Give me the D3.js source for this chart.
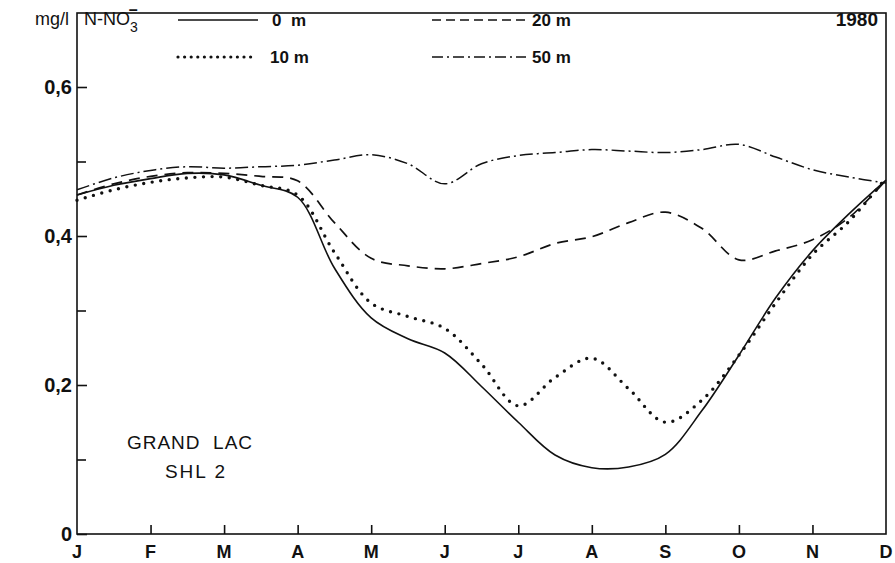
<!DOCTYPE html>
<html><head><meta charset="utf-8">
<script src="https://cdn.jsdelivr.net/npm/d3@7"></script>
<style>
body{margin:0;background:#fff;}
text{font-family:"Liberation Sans",Arial,sans-serif;fill:#111;}
</style></head>
<body><svg id="c" width="895" height="563"></svg>
<script>
const months = ["J","F","M","A","M","J","J","A","S","O","N","D"];
const xs = [0,0.5,1,1.5,2,2.5,3,3.5,4,4.5,5,5.5,6,6.5,7,7.5,8,8.5,9,9.5,10,10.5,11];
const s0m  = [0.455,0.468,0.477,0.484,0.482,0.468,0.452,0.357,0.290,0.262,0.243,0.198,0.150,0.106,0.089,0.090,0.107,0.166,0.240,0.317,0.380,0.430,0.475];
const s10m = [0.448,0.462,0.472,0.478,0.479,0.468,0.455,0.378,0.310,0.292,0.276,0.228,0.172,0.210,0.236,0.195,0.150,0.180,0.240,0.310,0.375,0.420,0.478];
const s20m = [0.455,0.470,0.480,0.485,0.484,0.480,0.474,0.418,0.370,0.360,0.356,0.363,0.372,0.390,0.399,0.418,0.432,0.410,0.368,0.380,0.395,0.425,0.475];
const s50m = [0.462,0.478,0.488,0.493,0.491,0.493,0.495,0.502,0.509,0.497,0.470,0.497,0.508,0.512,0.516,0.514,0.512,0.516,0.523,0.506,0.489,0.479,0.471];
const yTicks = [0,0.2,0.4,0.6];
const yTickLabels = ["0","0,2","0,4","0,6"];
const yMinor = [0.1,0.3,0.5];

const svg = d3.select("#c");
const pL=77, pR=886, pT=13, pB=534;
const x = d3.scaleLinear().domain([0,11]).range([pL,pR]);
const y = d3.scaleLinear().domain([0,0.7]).range([pB, pB-0.7*745]);

svg.append("rect").attr("x",pL).attr("y",pT).attr("width",pR-pL).attr("height",pB-pT)
  .attr("fill","none").attr("stroke","#111").attr("stroke-width",1.6);

const ya = d3.axisRight(y).tickValues(yTicks).tickSize(10).tickFormat("");
const yg = svg.append("g").attr("transform",`translate(${pL},0)`).call(ya);
yg.select(".domain").remove();
yg.selectAll("line").attr("stroke","#111").attr("stroke-width",1.6);
const ym = d3.axisRight(y).tickValues(yMinor).tickSize(9).tickFormat("");
const ymg = svg.append("g").attr("transform",`translate(${pL},0)`).call(ym);
ymg.select(".domain").remove();
ymg.selectAll("line").attr("stroke","#111").attr("stroke-width",1.6);
yTicks.forEach((t,i)=>{
  svg.append("text").attr("x",pL-5).attr("y",y(t)+7).attr("text-anchor","end")
    .attr("font-size",20).attr("font-weight","bold").text(yTickLabels[i]);
});

const xa = d3.axisTop(x).tickValues(d3.range(1,11)).tickSize(9).tickFormat("");
const xg = svg.append("g").attr("transform",`translate(0,${pB})`).call(xa);
xg.select(".domain").remove();
xg.selectAll("line").attr("stroke","#111").attr("stroke-width",1.6);
months.forEach((m,i)=>{
  svg.append("text").attr("x",x(i)).attr("y",558).attr("text-anchor","middle")
    .attr("font-size",18).attr("font-weight","bold").text(m);
});

const line = d3.line().x((d,i)=>x(xs[i])).y(d=>y(d)).curve(d3.curveCatmullRom.alpha(0.5));
const series = [
  {v:s50m, dash:"13 4 2 4", w:1.5, cap:"butt"},
  {v:s20m, dash:"11 7", w:1.7, cap:"butt"},
  {v:s10m, dash:"0 8.6", w:3.4, cap:"round"},
  {v:s0m, dash:null, w:1.6, cap:"butt"}
];
series.forEach(s=>{
  svg.append("path").datum(s.v).attr("d",line).attr("fill","none")
    .attr("stroke","#111").attr("stroke-width",s.w).attr("stroke-linecap",s.cap)
    .attr("stroke-dasharray",s.dash);
});

svg.append("text").attr("x",35).attr("y",25).attr("font-size",18).text("mg/l");
const nt = svg.append("text").attr("x",84).attr("y",25).attr("font-size",18);
nt.append("tspan").text("N-NO");
nt.append("tspan").attr("font-size",14).attr("dy",7).text("3");
nt.append("tspan").attr("font-size",16).attr("dx",-9).attr("dy",-17).attr("font-weight","bold").text("\u2013");

const leg = [
  {x1:178,x2:258,y:20,dash:null,w:1.6,cap:"butt",label:"0  m",tx:272},
  {x1:432,x2:526,y:20,dash:"9 5",w:1.6,cap:"butt",label:"20 m",tx:532},
  {x1:178,x2:256,y:57,dash:"0 6.6",w:3.2,cap:"round",label:"10 m",tx:270},
  {x1:432,x2:526,y:57,dash:"11 4 2 4",w:1.5,cap:"butt",label:"50 m",tx:532}
];
leg.forEach(l=>{
  svg.append("line").attr("x1",l.x1).attr("x2",l.x2).attr("y1",l.y).attr("y2",l.y)
    .attr("stroke","#111").attr("stroke-width",l.w).attr("stroke-linecap",l.cap).attr("stroke-dasharray",l.dash);
  svg.append("text").attr("x",l.tx).attr("y",l.y+6).attr("font-size",17).attr("font-weight","bold").attr("xml:space","preserve").text(l.label);
});
svg.append("text").attr("x",878).attr("y",26).attr("text-anchor","end").attr("font-size",19).attr("font-weight","bold").text("1980");

svg.append("text").attr("x",190).attr("y",449).attr("text-anchor","middle").attr("font-size",19).attr("letter-spacing",1).attr("xml:space","preserve").text("GRAND  LAC");
svg.append("text").attr("x",196).attr("y",478).attr("text-anchor","middle").attr("font-size",19).attr("letter-spacing",2).attr("xml:space","preserve").text("SHL 2");
</script></body></html>
